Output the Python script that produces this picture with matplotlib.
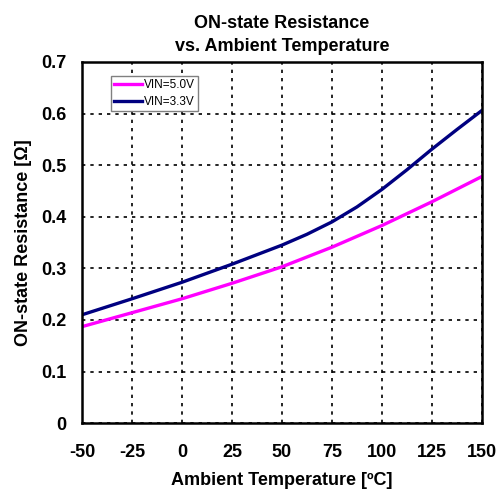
import matplotlib
matplotlib.use("Agg")
import matplotlib.pyplot as plt

plt.rcParams['font.family'] = ['Liberation Sans', 'DejaVu Sans']
plt.rcParams['axes.unicode_minus'] = False

temps_5v0 = [-50, -25, 0, 25, 50, 75, 100, 125, 150]
r_5v0 = [0.187, 0.214, 0.241, 0.271, 0.303, 0.341, 0.383, 0.429, 0.478]
temps_3v3 = [-50, -25, 0, 25, 50, 62.5, 75, 87.5, 100, 112.5, 125, 137.5, 150]
r_3v3 = [0.210, 0.241, 0.273, 0.308, 0.345, 0.366, 0.390, 0.419, 0.453, 0.491, 0.531, 0.569, 0.606]
xticks = [-50, -25, 0, 25, 50, 75, 100, 125, 150]
yticks = [0, 0.1, 0.2, 0.3, 0.4, 0.5, 0.6, 0.7]
ytick_labels = ['0', '0.1', '0.2', '0.3', '0.4', '0.5', '0.6', '0.7']

fig = plt.figure(figsize=(5.03, 4.92), dpi=100)
ax = fig.add_axes([0.163, 0.140, 0.795, 0.734])

ax.plot(temps_5v0, r_5v0, color='#FF00FF', lw=2.4, label='VIN=5.0V')
ax.plot(temps_3v3, r_3v3, color='#000080', lw=2.4, label='VIN=3.3V')

ax.set_xlim(-50, 150)
ax.set_ylim(0, 0.7)
ax.set_xticks(xticks)
ax.set_yticks(yticks)
ax.set_yticklabels(ytick_labels)
ax.tick_params(length=0, labelsize=13)
ax.tick_params(axis='x', pad=15)
ax.tick_params(axis='y', pad=11)
for lab in ax.get_xticklabels() + ax.get_yticklabels():
    lab.set_fontweight('bold')
ax.grid(True, color='black', linestyle=(0, (2, 3)), lw=1.2)
for s in ax.spines.values():
    s.set_linewidth(1.8)
    s.set_color('black')

ax.set_xlabel('Ambient Temperature [ºC]', fontsize=13, fontweight='bold', labelpad=8)
ax.set_ylabel('ON-state Resistance [Ω]', fontsize=13, fontweight='bold', labelpad=7)
ax.set_title('ON-state Resistance\nvs. Ambient Temperature', fontsize=13, fontweight='bold',
             pad=8, linespacing=1.45)

leg = ax.legend(loc='upper left', bbox_to_anchor=(0.0725, 0.961), fontsize=8.5,
                frameon=True, fancybox=False, handlelength=2.4, handletextpad=0.15,
                borderpad=0.25, labelspacing=0.4, borderaxespad=0)
leg.get_frame().set_edgecolor('#808080')
leg.get_frame().set_linewidth(1.0)
leg.get_frame().set_alpha(1)

fig.savefig('out.png', dpi=100)
